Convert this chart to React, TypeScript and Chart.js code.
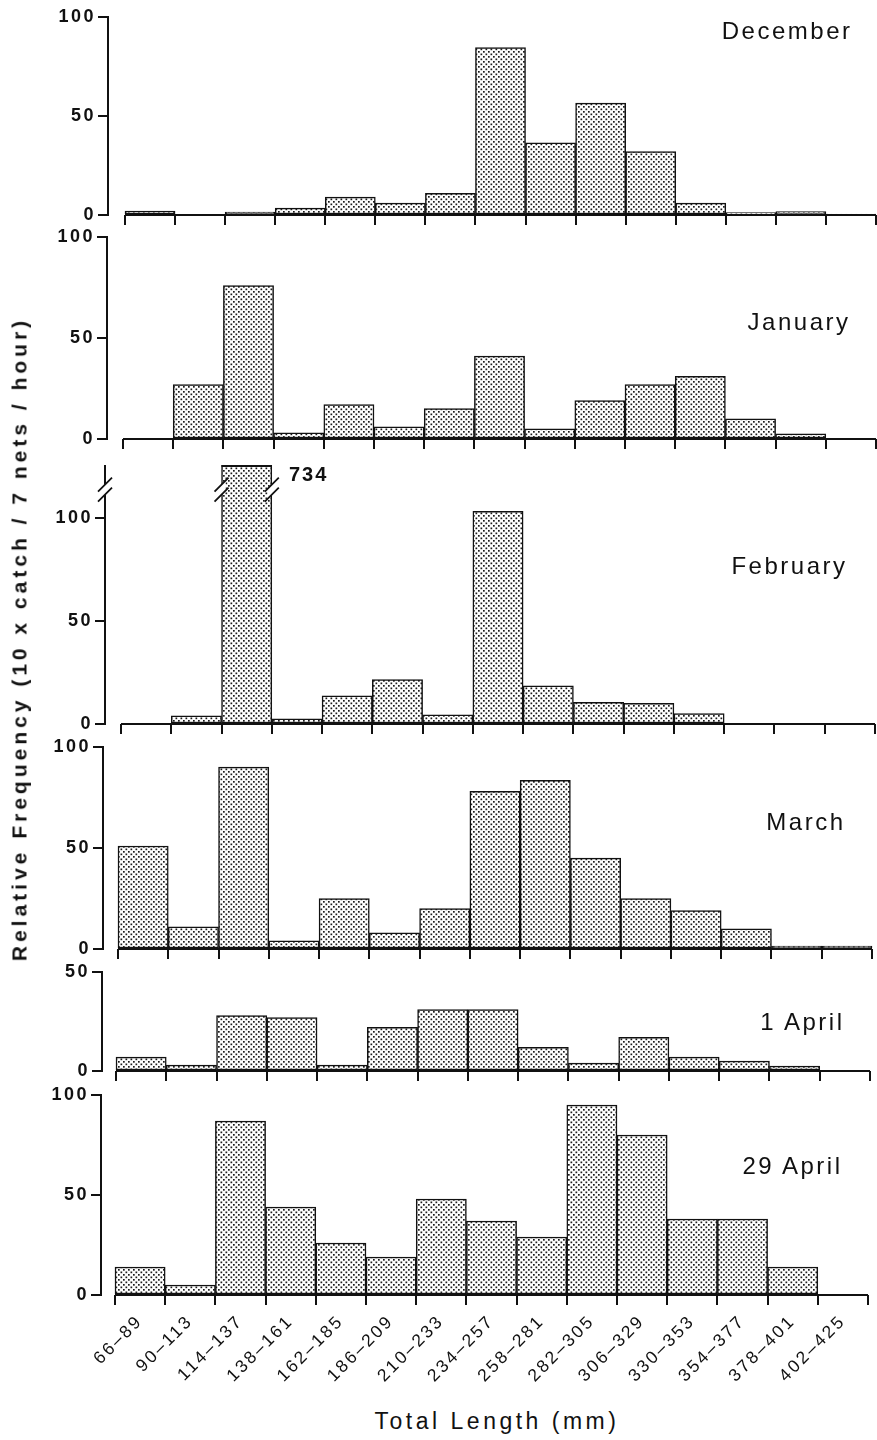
import React, { useEffect, useRef } from 'react';
import { Chart, registerables } from 'chart.js';

Chart.register(...registerables);

// Length classes (mm) shared by every monthly histogram
const lengthClasses = [
  '66–89', '90–113', '114–137', '138–161', '162–185', '186–209', '210–233', '234–257',
  '258–281', '282–305', '306–329', '330–353', '354–377', '378–401', '402–425',
];

// Relative frequency (10 x catch / 7 nets / hour) per length class
const december = [2, 0, 1.5, 3.5, 9, 6, 11, 84.5, 36.5, 56.5, 32, 6, 1.2, 1.7, 0.5];
const january = [0, 27, 76, 3, 17, 6, 15, 41, 5, 19, 27, 31, 10, 2.5, 0];
const february = [0, 4, 734, 2.5, 13.7, 21.5, 4.5, 103, 18.5, 10.5, 10, 5, 0, 0, 0];
const march = [51, 11, 90, 4, 25, 8, 20, 78, 83.5, 45, 25, 19, 10, 1.5, 1.5];
const april1 = [7, 3, 28, 27, 3, 22, 31, 31, 12, 4, 17, 7, 5, 2.5, 0];
const april29 = [14, 5, 87, 44, 26, 19, 48, 37, 29, 95, 80, 38, 38, 14, 0];

// Y tick values
const ticks0to100 = [0, 50, 100];
const ticks0to50 = [0, 50];

const panelNames = ['December', 'January', 'February', 'March', '1 April', '29 April'];
const yTitle = 'Relative Frequency (10 x catch / 7 nets / hour)';
const xTitle = 'Total Length (mm)';

const FONT = '"Liberation Sans", Arial, Helvetica, sans-serif';
const INK = '#111111';
const PAGE_W = 877;

type PanelSpec = {
  name: string;
  values: number[];
  yMax: number;
  yTicks: number[];
  axisX: number;
  binLeft: number;
  binRight: number;
  topPx: number;
  zeroPx: number;
  titleRight: number;
  titleTop: number;
  showLabels?: boolean;
  broken?: number;
};

// Page layout of the six stacked panels
const panels: PanelSpec[] = [
  { name: panelNames[0], values: december, yMax: 100, yTicks: ticks0to100, axisX: 108, binLeft: 125, binRight: 876, topPx: 17, zeroPx: 215, titleRight: 850, titleTop: 19 },
  { name: panelNames[1], values: january, yMax: 100, yTicks: ticks0to100, axisX: 107, binLeft: 123, binRight: 876, topPx: 237, zeroPx: 439, titleRight: 848, titleTop: 310 },
  { name: panelNames[2], values: february, yMax: 125, yTicks: ticks0to100, axisX: 105, binLeft: 121, binRight: 875, topPx: 466, zeroPx: 724, titleRight: 845, titleTop: 554, broken: 2 },
  { name: panelNames[3], values: march, yMax: 100, yTicks: ticks0to100, axisX: 103, binLeft: 118, binRight: 872, topPx: 747, zeroPx: 949, titleRight: 843, titleTop: 810 },
  { name: panelNames[4], values: april1, yMax: 50, yTicks: ticks0to50, axisX: 102, binLeft: 116, binRight: 870, topPx: 972, zeroPx: 1071, titleRight: 842, titleTop: 1010 },
  { name: panelNames[5], values: april29, yMax: 100, yTicks: ticks0to100, axisX: 101, binLeft: 115, binRight: 868, topPx: 1095, zeroPx: 1295, titleRight: 840, titleTop: 1154, showLabels: true },
];

// Stippled fill used for the bars
function makeStipple(): CanvasPattern | string {
  const tile = document.createElement('canvas');
  tile.width = 5;
  tile.height = 5;
  const c = tile.getContext('2d');
  if (!c) return '#aaaaaa';
  c.fillStyle = '#ffffff';
  c.fillRect(0, 0, 5, 5);
  c.fillStyle = '#1c1c1c';
  c.fillRect(0.5, 0.5, 1.7, 1.7);
  c.fillRect(3.0, 3.0, 1.7, 1.7);
  return c.createPattern(tile, 'repeat') || '#aaaaaa';
}

const tracking = {
  id: 'tracking',
  beforeLayout(chart: any) {
    chart.ctx.letterSpacing = '2.5px';
  },
  beforeDraw(chart: any) {
    chart.ctx.letterSpacing = '2.5px';
  },
};

// Axis and bar break marks for an off-scale class
function breakMarks(index: number, centerValue: number) {
  return {
    id: 'breakMarks',
    afterDatasetsDraw(chart: any) {
      const { ctx, chartArea } = chart;
      const y = chart.scales.y;
      const bar = chart.getDatasetMeta(0).data[index];
      if (!bar) return;
      const { x, width } = bar.getProps(['x', 'width'], true);
      const left = x - width / 2;
      const right = x + width / 2;
      const cy = y.getPixelForValue(centerValue);
      const gap = 5;
      ctx.save();
      // cap the clipped bar at the top of the axis
      ctx.strokeStyle = INK;
      ctx.lineWidth = 2;
      ctx.beginPath();
      ctx.moveTo(left, chartArea.top);
      ctx.lineTo(right, chartArea.top);
      ctx.stroke();
      for (const x0 of [chartArea.left, left, right]) {
        ctx.fillStyle = '#ffffff';
        ctx.beginPath();
        ctx.moveTo(x0 - 4, cy - gap + 4);
        ctx.lineTo(x0 + 4, cy - gap - 4);
        ctx.lineTo(x0 + 4, cy + gap - 4);
        ctx.lineTo(x0 - 4, cy + gap + 4);
        ctx.closePath();
        ctx.fill();
        ctx.strokeStyle = INK;
        ctx.lineWidth = 1.8;
        ctx.beginPath();
        ctx.moveTo(x0 - 7, cy - gap + 7);
        ctx.lineTo(x0 + 7, cy - gap - 7);
        ctx.moveTo(x0 - 7, cy + gap + 7);
        ctx.lineTo(x0 + 7, cy + gap - 7);
        ctx.stroke();
      }
      ctx.restore();
    },
  };
}

function HistogramPanel({ p }: { p: PanelSpec }) {
  const ref = useRef<HTMLCanvasElement>(null);
  const yAxisW = 70;
  const xAxisH = p.showLabels ? 100 : 14;
  const top = p.topPx - 14;
  const height = p.zeroPx + xAxisH - top;

  useEffect(() => {
    const canvas = ref.current;
    if (!canvas) return;
    const stipple = makeStipple();
    const n = lengthClasses.length;
    const binW = (p.binRight - p.binLeft) / n;
    const xMin = -(p.binLeft - p.axisX) / binW;
    const plugins: any[] = [tracking];
    if (p.broken !== undefined) plugins.push(breakMarks(p.broken, 113.5));

    const chart = new Chart(canvas, {
      type: 'bar',
      data: {
        datasets: [
          {
            type: 'bar',
            data: p.values.map((v, i) => ({ x: i + 0.5, y: v })),
            backgroundColor: stipple as any,
            borderColor: INK,
            borderWidth: 1.5,
            borderSkipped: false,
            barPercentage: 1,
            categoryPercentage: 1,
            order: 1,
            clip: p.broken !== undefined ? { left: false, right: false, bottom: false, top: 1 } : (false as any),
          } as any,
          {
            type: 'line',
            data: [{ x: 0, y: 0 }, { x: n, y: 0 }],
            borderColor: INK,
            borderWidth: 2,
            pointRadius: 0,
            order: 0,
            clip: false as any,
          } as any,
        ],
      },
      options: {
        responsive: false,
        animation: false,
        events: [],
        layout: {
          autoPadding: false,
          padding: {
            left: p.axisX - yAxisW,
            right: PAGE_W - p.binRight,
            top: p.topPx - top,
            bottom: 0,
          },
        },
        plugins: {
          legend: { display: false },
          tooltip: { enabled: false },
          title: { display: false },
        },
        scales: {
          x: {
            type: 'linear',
            min: xMin,
            max: n,
            bounds: 'data',
            offset: false,
            afterBuildTicks: (s: any) => {
              s.ticks = lengthClasses.map((_, i) => ({ value: i + 0.5 }));
            },
            afterFit: (s: any) => {
              s.height = xAxisH;
            },
            grid: {
              display: true,
              offset: true,
              drawOnChartArea: false,
              drawTicks: true,
              tickLength: 10,
              color: INK,
              lineWidth: 2,
            },
            border: { display: false },
            ticks: {
              display: !!p.showLabels,
              autoSkip: false,
              minRotation: 45,
              maxRotation: 45,
              padding: 6,
              color: INK,
              font: { family: FONT, size: 17.5 },
              callback: (_v: any, i: number) => lengthClasses[i],
            },
          } as any,
          y: {
            type: 'linear',
            min: 0,
            max: p.yMax,
            bounds: 'data',
            afterBuildTicks: (s: any) => {
              s.ticks = p.yTicks.map((v) => ({ value: v }));
            },
            afterFit: (s: any) => {
              s.width = yAxisW;
            },
            grid: {
              display: true,
              drawOnChartArea: false,
              drawTicks: true,
              tickLength: 10,
              color: INK,
              lineWidth: 2,
            },
            border: { display: true, color: INK, width: 2 },
            ticks: {
              padding: 2,
              color: INK,
              font: { family: FONT, size: 18, weight: 'bold' },
            },
          } as any,
        },
      },
      plugins,
    } as any);
    return () => chart.destroy();
  }, []);

  return (
    <canvas
      ref={ref}
      width={PAGE_W}
      height={height}
      style={{ position: 'absolute', left: 0, top, width: PAGE_W, height }}
    />
  );
}

export default function App() {
  return (
    <div
      style={{
        position: 'absolute',
        left: 0,
        top: 0,
        width: PAGE_W,
        height: 1440,
        background: '#ffffff',
        overflow: 'hidden',
        fontFamily: FONT,
        color: INK,
      }}
    >
      {panels.map((p) => (
        <HistogramPanel key={p.name} p={p} />
      ))}
      {panels.map((p) => (
        <div
          key={'t-' + p.name}
          style={{
            position: 'absolute',
            top: p.titleTop,
            right: PAGE_W - p.titleRight - 2.5,
            fontSize: 24,
            lineHeight: 1,
            letterSpacing: '2.5px',
            whiteSpace: 'nowrap',
          }}
        >
          {p.name}
        </div>
      ))}
      <div
        style={{
          position: 'absolute',
          left: 289,
          top: 464,
          fontSize: 20,
          fontWeight: 'bold',
          lineHeight: 1,
          letterSpacing: '2px',
          whiteSpace: 'nowrap',
        }}
      >
        {february[2]}
      </div>
      <div
        style={{
          position: 'absolute',
          left: 19,
          top: 639,
          transform: 'translate(-50%, -50%) rotate(-90deg)',
          fontSize: 21,
          fontWeight: 'bold',
          lineHeight: 1,
          letterSpacing: '4px',
          whiteSpace: 'nowrap',
        }}
      >
        {yTitle}
      </div>
      <div
        style={{
          position: 'absolute',
          left: 497,
          top: 1410,
          transform: 'translateX(-50%)',
          fontSize: 23,
          lineHeight: 1,
          letterSpacing: '3.5px',
          whiteSpace: 'nowrap',
        }}
      >
        {xTitle}
      </div>
    </div>
  );
}
